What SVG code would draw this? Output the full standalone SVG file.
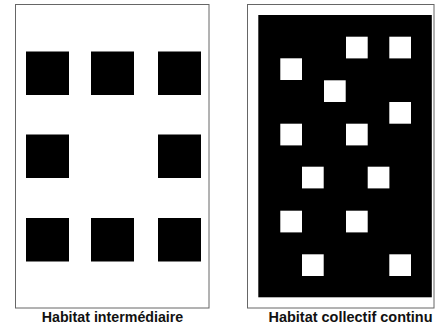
<svg xmlns="http://www.w3.org/2000/svg" width="435" height="327" viewBox="0 0 435 327">
<style>
.frame{fill:#fff;stroke:#666;stroke-width:1}
.blk{fill:#000}
.wht{fill:#fff}
.lbl{font-family:"Liberation Sans",Arial,sans-serif;font-size:14px;font-weight:bold;fill:#111;text-anchor:middle}
</style>
<rect width="435" height="327" fill="#fff"/>
<g id="habitat-intermediaire">
<rect class="frame" x="15.5" y="4.5" width="193.5" height="303.5"/>
<rect class="blk" x="26" y="51.5" width="43" height="43.5"/>
<rect class="blk" x="91" y="51.5" width="43" height="43.5"/>
<rect class="blk" x="158" y="51.5" width="43" height="43.5"/>
<rect class="blk" x="26" y="134.5" width="43" height="43.5"/>
<rect class="blk" x="158" y="134.5" width="43" height="43.5"/>
<rect class="blk" x="26" y="218" width="43" height="43.5"/>
<rect class="blk" x="91" y="218" width="43" height="43.5"/>
<rect class="blk" x="158" y="218" width="43" height="43.5"/>
<text class="lbl" x="112.5" y="322.3" textLength="141.5" lengthAdjust="spacingAndGlyphs">Habitat intermédiaire</text>
</g>
<g id="habitat-collectif-continu">
<rect class="frame" x="247.5" y="4.5" width="186.5" height="303.5"/>
<rect class="blk" x="258.3" y="15" width="173.5" height="282.3"/>
<rect class="wht" x="346" y="36.7" width="21.7" height="21.7"/>
<rect class="wht" x="389.3" y="36.7" width="21.7" height="21.7"/>
<rect class="wht" x="280.3" y="58.3" width="21.7" height="21.7"/>
<rect class="wht" x="324" y="80.3" width="21.7" height="21.7"/>
<rect class="wht" x="389.3" y="102" width="21.7" height="21.7"/>
<rect class="wht" x="280.3" y="123.7" width="21.7" height="21.7"/>
<rect class="wht" x="346" y="123.7" width="21.7" height="21.7"/>
<rect class="wht" x="302" y="166.7" width="21.7" height="21.7"/>
<rect class="wht" x="367.7" y="166.7" width="21.7" height="21.7"/>
<rect class="wht" x="280.3" y="210.7" width="21.7" height="21.7"/>
<rect class="wht" x="346" y="210.7" width="21.7" height="21.7"/>
<rect class="wht" x="302" y="254.3" width="21.7" height="21.7"/>
<rect class="wht" x="389.3" y="254.3" width="21.7" height="21.7"/>
<text class="lbl" x="350.5" y="322.3" textLength="164" lengthAdjust="spacingAndGlyphs">Habitat collectif continu</text>
</g>
<g id="connectors"></g>
</svg>
